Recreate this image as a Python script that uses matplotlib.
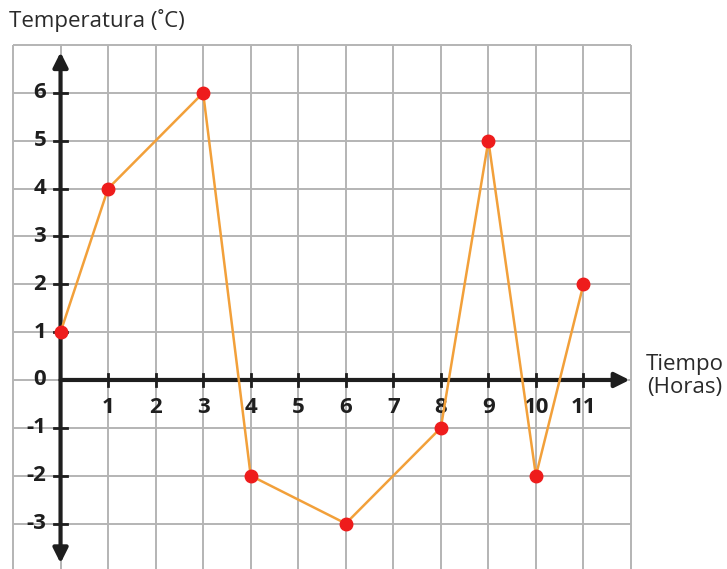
import matplotlib.pyplot as plt

#  Data
hours = [0, 1, 3, 4, 6, 8, 9, 10, 11]
temps = [1, 4, 6, -2, -3, -1, 5, -2, 2]
x_tick_labels = [1, 2, 3, 4, 5, 6, 7, 8, 9, 10, 11]
y_tick_labels = [-3, -2, -1, 0, 1, 2, 3, 4, 5, 6]

plt.rcParams['font.family'] = ['Open Sans', 'DejaVu Sans']

fig = plt.figure(figsize=(7.27, 5.69), dpi=100)
ax = fig.add_axes([13 / 727, 0, 618 / 727, 1 - 45 / 569])
ax.set_xlim(-1, 12)
ax.set_ylim(-3.95, 7)
ax.axis('off')

#  Grid
grid_kw = dict(color='#b4b4b4', lw=1.4, clip_on=False, zorder=1)
ax.vlines(range(-1, 13), -3.95, 7, **grid_kw)
ax.hlines(range(-3, 8), -1, 12, **grid_kw)

#  Axes with arrows
axis_color = '#1e1e1e'
ax.annotate('', xy=(11.97, 0), xytext=(0, 0),
            arrowprops=dict(arrowstyle='-|>', lw=3, color=axis_color,
                            mutation_scale=22, shrinkA=0, shrinkB=0), zorder=3)
ax.annotate('', xy=(0, 6.85), xytext=(0, -3.83),
            arrowprops=dict(arrowstyle='<|-|>', lw=3, color=axis_color,
                            mutation_scale=22, shrinkA=0, shrinkB=0), zorder=3)

#  Tick marks and labels
for x in x_tick_labels:
  ax.plot([x, x], [-0.13, 0.13], color=axis_color, lw=2, zorder=3)
  ax.text(x, -0.58, str(x), ha='center', va='center', fontsize=16,
          fontweight='bold', color=axis_color)
for y in y_tick_labels:
  if y != 0:
    ax.plot([-0.13, 0.13], [y, y], color=axis_color, lw=2, zorder=3)
  ax.text(-0.3, y, str(y), ha='right', va='center', fontsize=16,
          fontweight='bold', color=axis_color)

#  Data line
ax.plot(hours, temps, color='#f2a03a', lw=1.8, zorder=4, clip_on=False)
ax.plot(hours, temps, 'o', color='#ee1c1c', markersize=9, zorder=5, clip_on=False)

#  Axis titles
fig.text(9 / 727, 1 - 21 / 569, 'Temperatura (˚C)', ha='left', va='center',
         fontsize=16, color='#2a2a2a')
fig.text(685 / 727, 1 - 376 / 569, 'Tiempo\n(Horas)', ha='center', va='center',
         fontsize=16, color='#2a2a2a', linespacing=1.15)

fig.savefig('out.png', dpi=100)
